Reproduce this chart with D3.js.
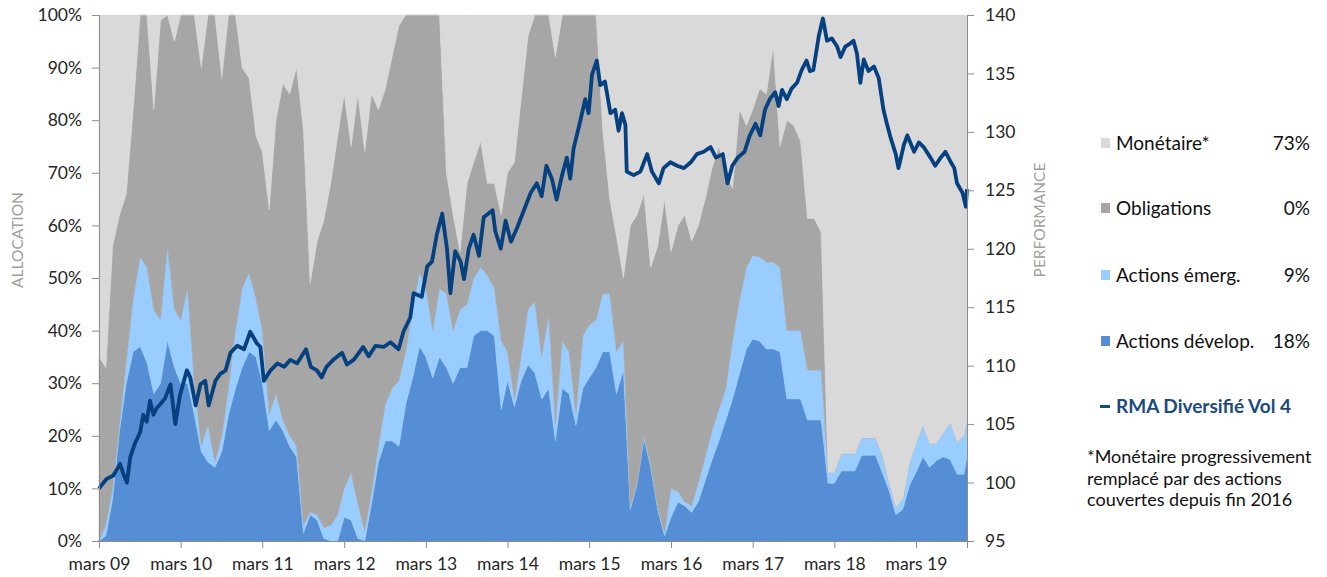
<!DOCTYPE html>
<html>
<head>
<meta charset="utf-8">
<script src="https://cdn.jsdelivr.net/npm/d3@7"></script>
<style>
  body { margin: 0; background: #fff; }
  svg { font-family: Lato, "Open Sans", sans-serif; }
</style>
</head>
<body>
<div id="chart"></div>
<script>
// monthly points from mars 09, last point mid-October 2019
const startMonth = new Date(2009, 2, 1);
const lastDate = new Date(2019, 9, 15);
const tickYears = [2009, 2010, 2011, 2012, 2013, 2014, 2015, 2016, 2017, 2018, 2019];
const pctTicks = [0, 10, 20, 30, 40, 50, 60, 70, 80, 90, 100];
const perfTicks = [95, 100, 105, 110, 115, 120, 125, 130, 135, 140];

// allocation (%), one row per year (mars -> février)
const dev = [
  0, 1, 8, 21, 30, 36, 37, 34, 28, 30, 38, 33,
  30, 30, 24, 17, 15, 14, 17, 24, 29, 33, 36, 35,
  30, 21, 23, 21, 18, 16, 1.5, 5, 4, 0.5, 0, 0,
  4.5, 4, 0.5, 0, 7, 15, 19, 19, 18, 26, 31, 37,
  35, 31, 35, 33, 30, 33, 33, 39, 40, 40, 39, 25,
  30.5, 25.5, 30.5, 33.5, 32, 27, 29, 19, 29, 28, 22, 29,
  31, 33, 36, 36, 28, 32.5, 6, 10.7, 19.5, 14, 6, 1,
  4.5, 7.4, 6.7, 5.4, 7.5, 11.5, 15.5, 19, 23, 27, 31.8, 36.5,
  38.4, 38, 36.5, 36.5, 36, 27, 27, 27, 23, 23, 23, 11,
  11, 13.3, 13.3, 13.3, 16.3, 16.3, 16.3, 13, 9.5, 5, 6, 10.7,
  13, 16, 14, 15.3, 16, 15.5, 12.7, 12.7, 16
];
const emerg = [
  0, 2, 2, 1, 4, 10, 17, 18, 16, 12, 18, 11,
  12, 18, 6, 1, 7, 1, 3, 5, 11, 15, 15, 11,
  10, 3, 5, 2, 2, 2, 1.5, 0.5, 1, 2, 3, 5,
  5.5, 9, 6.5, 2, 2, 3, 7, 10, 12.5, 10, 13, 14,
  13, 9, 13, 14, 10, 11, 12, 11, 12, 10.5, 9, 13,
  5.5, 1.5, 4.5, 10.5, 13.5, 8, 14, 3, 9, 8, 2, 10,
  10, 9, 11, 11, 8, 5.5, 0.5, 0.3, 0.5, 0.5, 0.5, 0.5,
  5.5, 2, 0.7, 1.3, 3.5, 4.5, 5.5, 6, 6, 11, 13.9, 15.5,
  15.9, 16, 16.5, 16.5, 16, 13, 13, 13, 9.5, 9.5, 9.5, 2,
  2, 3.3, 3.3, 3.3, 3.3, 3.3, 3.3, 3.5, 1.5, 1.5, 2, 4.3,
  5.5, 6, 4.5, 3.3, 4.5, 7, 6.1, 7.3, 7
];
const oblig = [
  35, 30, 46, 40, 32, 36, 46, 48, 38, 57, 44, 51,
  58, 52, 70, 72, 78, 85, 68, 71, 60, 42, 37, 31,
  34, 39, 52, 64, 65, 72, 75, 43.5, 52, 58.5, 65, 72,
  75, 62, 78, 72, 76, 64, 60, 63, 67.5, 64, 56, 49,
  52, 60, 52, 23, 22, 11, 23, 22, 24, 17.5, 20, 24,
  34, 45, 49, 52, 54.5, 65, 57, 70, 62, 64, 76, 61,
  59, 58, 31, 18, 22, 12, 53.5, 51, 46, 37.5, 49.5, 63.5,
  45, 50.6, 54.6, 50.3, 49, 49, 50, 50, 41, 29, 36.3, 27,
  27.7, 32, 32, 41, 23, 40, 39, 36, 28.8, 28.8, 26.2, 0,
  0, 0, 0, 0, 0, 0, 0, 0, 0, 0, 0, 0,
  0, 0, 0, 0, 0, 0, 0, 0, 0
];
const mon = [
  65, 67, 44, 38, 34, 18, 0, 0, 18, 1, 0, 5,
  0, 0, 0, 10, 0, 0, 12, 0, 0, 10, 12, 23,
  26, 37, 20, 13, 15, 10, 22, 51, 43, 39, 32, 23,
  15, 25, 15, 26, 15, 18, 14, 8, 2, 0, 0, 0,
  0, 0, 0, 30, 38, 45, 32, 28, 24, 32, 32, 38,
  30, 28, 16, 4, 0, 0, 0, 8, 0, 0, 0, 0,
  0, 0, 22, 35, 42, 50, 40, 38, 34, 48, 44, 35,
  45, 40, 38, 43, 40, 35, 29, 25, 30, 33, 18, 21,
  18, 14, 15, 6, 25, 20, 21, 24, 38.7, 38.7, 41.3, 87,
  87, 83.4, 83.4, 83.4, 80.4, 80.4, 80.4, 83.5, 89, 93.5, 92, 85,
  81.5, 78, 81.5, 81.4, 79.5, 77.5, 81.2, 80, 77
];

// performance (base 100), read at irregular points: months since mars 09
const perfMonth = [
  0, 1.1, 2.1, 3.1, 3.6, 4.1, 4.6, 5.3, 6.05, 6.5, 7.0, 7.5, 8.0, 8.5, 9.0, 9.7, 10.5, 11.2, 11.9,
  12.9, 13.4, 14.2, 14.9, 15.6, 16.1, 17.1, 17.8, 18.6, 19.3, 20.3, 21.3, 22.2, 23.2, 23.7,
  24.2, 25.2, 26.2, 27.2, 28.1, 29.1, 30.4, 31.1, 32.0, 32.7, 33.4, 34.4, 35.7,
  36.4, 37.4, 38.8, 39.6, 40.6, 41.8, 42.8, 44.0, 44.7, 45.7, 46.2, 47.4,
  48.2, 48.9, 49.6, 50.4, 51.1, 51.6, 52.3, 53.1, 53.6, 54.3, 55.0, 55.8, 56.5, 57.8, 58.2, 59.0, 59.7,
  60.5, 61.4, 62.4, 63.4, 64.3, 65.0, 65.7, 66.5, 67.2, 68.0, 68.7, 69.2, 69.7, 70.7, 71.4, 71.9,
  72.4, 73.1, 73.6, 74.3, 75.1, 75.8, 76.3, 76.8, 77.3, 77.5, 78.5, 79.5, 80.5, 81.2, 82.2, 82.9, 83.9,
  84.9, 85.9, 86.9, 87.8, 88.8, 89.8, 90.6, 91.6, 92.3, 93.0, 93.8, 94.8, 95.5,
  96.4, 97.1, 97.8, 98.5, 99.3, 99.8, 100.3, 101.0, 101.7, 102.5, 103.2, 103.9, 104.4, 104.9, 105.7, 106.3, 106.9, 107.6,
  108.4, 108.9, 109.6, 110.4, 110.8, 111.3, 111.8, 112.3, 113.0, 113.8, 114.5, 115.2, 115.7, 116.2, 117.0, 117.4, 118.2, 118.7, 119.7,
  120.4, 121.1, 122.1, 122.8, 123.6, 124.3, 125.1, 125.6, 126.0, 126.8, 127.3, 127.5
];
const perf = [
  99.5, 100.3, 100.6, 101.6, 100.7, 100.0, 102.2, 103.4, 104.3, 105.8, 105.2, 107.0, 105.8, 106.4, 106.7, 107.2, 108.4, 105.0, 107.5,
  109.6, 109.0, 106.6, 108.4, 108.7, 106.6, 108.7, 109.3, 109.6, 111.1, 111.7, 111.4, 112.9, 111.9, 111.6,
  108.7, 109.6, 110.2, 109.9, 110.5, 110.2, 111.4, 109.9, 109.6, 109.0, 109.9, 110.5, 111.1,
  110.1, 110.5, 111.6, 110.8, 111.7, 111.6, 112.0, 111.4, 112.9, 114.1, 116.2, 115.9,
  118.5, 118.9, 121.2, 123.0, 120.0, 116.2, 119.8, 118.9, 117.4, 120.0, 121.2, 119.4, 122.7, 123.3, 121.5, 120.0, 122.4,
  120.6, 121.8, 123.3, 124.8, 125.6, 124.5, 127.1, 126.0, 124.2, 126.3, 127.8, 126.0, 128.6, 131.0, 132.8, 131.6,
  134.9, 136.1, 134.0, 134.3, 131.6, 131.9, 130.1, 131.6, 130.6, 126.6, 126.3, 126.6, 128.1, 126.6, 125.6, 126.9, 127.4,
  127.1, 126.9, 127.4, 128.1, 128.3, 128.7, 127.8, 128.1, 125.6, 127.1, 127.8, 128.3, 129.6,
  130.7, 129.7, 131.9, 132.8, 133.4, 132.2, 133.6, 132.8, 133.7, 134.2, 135.3, 136.1, 135.2, 135.3, 138.2, 139.7, 137.8, 138.0,
  137.3, 136.4, 137.3, 137.6, 137.8, 136.7, 134.2, 136.2, 135.2, 135.6, 134.6, 131.9, 130.7, 129.6, 128.1, 126.9, 128.9, 129.7, 128.3,
  129.1, 128.7, 127.8, 127.1, 127.8, 128.3, 127.4, 126.9, 125.6, 124.8, 123.6, 125.1
];

const seriesKeys = ['dev', 'emerg', 'oblig', 'mon'];
const colors = { dev: '#558ed5', emerg: '#99ccff', oblig: '#a6a6a6', mon: '#d9d9d9' };
const legendItems = [
  { key: 'mon', label: 'Monétaire*', value: '73%' },
  { key: 'oblig', label: 'Obligations', value: '0%' },
  { key: 'emerg', label: 'Actions émerg.', value: '9%' },
  { key: 'dev', label: 'Actions dévelop.', value: '18%' }
];
const lineLabel = 'RMA Diversifié Vol 4';
const footnote = ['*Monétaire progressivement', 'remplacé par des actions', 'couvertes depuis fin 2016'];

const width = 1327, height = 577;
const plotLeft = 99, plotRight = 967, plotTop = 15, plotBottom = 541;
const lineColor = '#06407f';
const dayMs = 864e5;

const dates = d3.range(dev.length - 1).map(i => d3.timeMonth.offset(startMonth, i)).concat([lastDate]);
const rows = dates.map((d, i) => ({ date: d, dev: dev[i], emerg: emerg[i], oblig: oblig[i], mon: mon[i] }));
const perfRows = perfMonth.map((m, i) => ({ date: new Date(+startMonth + m * 30.44 * dayMs), value: perf[i] }));

const svg = d3.select('#chart').append('svg').attr('width', width).attr('height', height);

const x = d3.scaleTime().domain([startMonth, lastDate]).range([plotLeft, plotRight]).clamp(true);
const yPct = d3.scaleLinear().domain([0, 100]).range([plotBottom, plotTop]);
const yPerf = d3.scaleLinear().domain([95, 140]).range([plotBottom, plotTop]);

const stacked = d3.stack().keys(seriesKeys)(rows);
const area = d3.area()
  .x(d => x(d.data.date))
  .y0(d => yPct(d[0]))
  .y1(d => yPct(d[1]));

svg.append('g').selectAll('path')
  .data(stacked)
  .enter()
  .append('path')
  .attr('d', area)
  .attr('fill', d => colors[d.key])
  .attr('stroke', d => colors[d.key])
  .attr('stroke-width', 0.5);

const line = d3.line()
  .x(d => x(d.date))
  .y(d => yPerf(d.value));

svg.append('path')
  .datum(perfRows)
  .attr('d', line)
  .attr('fill', 'none')
  .attr('stroke', lineColor)
  .attr('stroke-width', 3.8)
  .attr('stroke-linejoin', 'round');

// axes
const axisColor = '#8c8c8c';
const textColor = '#262626';

const leftAxis = svg.append('g')
  .attr('transform', `translate(${plotLeft},0)`)
  .call(d3.axisLeft(yPct).tickValues(pctTicks).tickFormat(d => d + '%').tickSize(7).tickPadding(10));

const rightAxis = svg.append('g')
  .attr('transform', `translate(${plotRight},0)`)
  .call(d3.axisRight(yPerf).tickValues(perfTicks).tickSize(7).tickPadding(11));

const bottomAxis = svg.append('g')
  .attr('transform', `translate(0,${plotBottom})`)
  .call(d3.axisBottom(x)
    .tickValues(tickYears.map(yr => new Date(yr, 2, 1)))
    .tickFormat(d => 'mars ' + d3.timeFormat('%y')(d))
    .tickSize(7).tickPadding(10));

[leftAxis, rightAxis, bottomAxis].forEach(g => {
  g.select('.domain').attr('stroke', axisColor);
  g.selectAll('.tick line').attr('stroke', axisColor);
  g.selectAll('text').attr('fill', textColor).style('font-size', '17.5px').style('font-family', 'Lato, sans-serif');
});

svg.append('text')
  .attr('transform', 'translate(23,240) rotate(-90)')
  .attr('text-anchor', 'middle')
  .attr('fill', '#a0a0a0')
  .style('font-size', '15.5px')
  .text('ALLOCATION');

svg.append('text')
  .attr('transform', 'translate(1045,220) rotate(-90)')
  .attr('text-anchor', 'middle')
  .attr('fill', '#a0a0a0')
  .style('font-size', '15.5px')
  .text('PERFORMANCE');

// legend
const legendY = [143, 208, 275, 341];
const legend = svg.append('g');
legendItems.forEach((item, i) => {
  const y = legendY[i];
  legend.append('rect')
    .attr('x', 1101).attr('y', y - 5)
    .attr('width', 9).attr('height', 10)
    .attr('fill', colors[item.key]);
  legend.append('text')
    .attr('x', 1116).attr('y', y)
    .attr('dy', '0.35em')
    .attr('fill', '#111')
    .style('font-size', '19px')
    .text(item.label);
  legend.append('text')
    .attr('x', 1310).attr('y', y)
    .attr('dy', '0.35em')
    .attr('text-anchor', 'end')
    .attr('fill', '#111')
    .style('font-size', '19px')
    .text(item.value);
});

legend.append('rect')
  .attr('x', 1100).attr('y', 405)
  .attr('width', 10).attr('height', 3)
  .attr('fill', '#1b4a7e');
legend.append('text')
  .attr('x', 1116).attr('y', 406)
  .attr('dy', '0.35em')
  .attr('fill', '#1b4a7e')
  .style('font-size', '19px')
  .style('font-weight', 'bold')
  .text(lineLabel);

footnote.forEach((t, i) => {
  legend.append('text')
    .attr('x', 1087).attr('y', 457 + i * 21.5)
    .attr('dy', '0.35em')
    .attr('fill', '#111')
    .style('font-size', '18px')
    .text(t);
});
</script>
</body>
</html>
